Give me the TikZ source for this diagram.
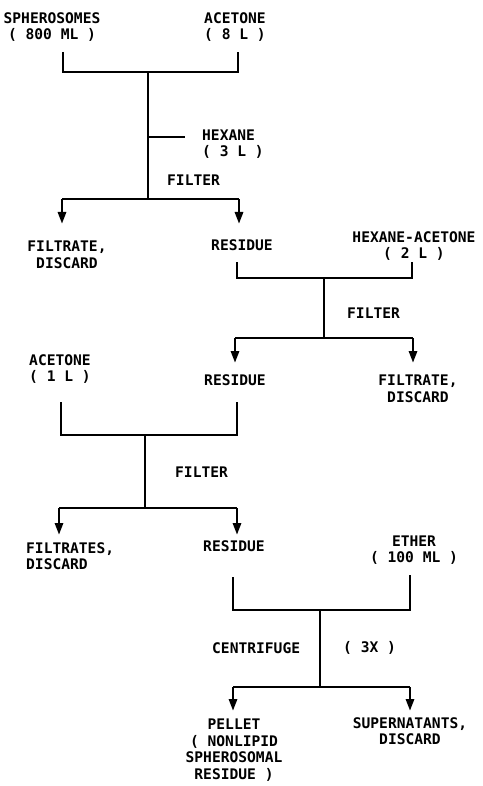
\documentclass[tikz,border=0pt]{standalone}
\usepackage{fontspec}
\setmainfont{DejaVu Sans Mono}
\usetikzlibrary{arrows.meta}
\begin{document}
\begin{tikzpicture}[x=1pt,y=-1pt,
  lbl/.style={font=\bfseries\fontsize{14.6}{16.5}\selectfont, inner sep=0pt, align=center},
  lbll/.style={lbl, align=left, anchor=west},
  ln/.style={line width=2.8pt, line cap=butt, line join=miter},
  arr/.style={ln, -{Triangle[width=8pt,length=12pt]}}]
\useasboundingbox (0,0) rectangle (482,786);

% ---------- block 1 ----------
\node[lbl] (sph) at (52,27) {SPHEROSOMES\\( 800 ML )};
\node[lbl] (ace1) at (235,27) {ACETONE\\( 8 L )};
\node[lbll] (hex) at (202,144) {HEXANE\\( 3 L )};
\node[lbll] (fil1) at (167,180) {FILTER};
\node[lbl] (ftr1) at (67,255) {FILTRATE,\\DISCARD};
\node[lbl] (res1) at (242,245) {RESIDUE};

\coordinate (a1) at (63,52);  \coordinate (a2) at (63,72);
\coordinate (a3) at (238,72); \coordinate (a4) at (238,52);
\coordinate (m1) at (148,72); \coordinate (m2) at (148,199);
\coordinate (h1) at (148,137); \coordinate (h2) at (185,137);
\coordinate (b1) at (62,199); \coordinate (b2) at (239,199);
\coordinate (t1) at (62,224); \coordinate (t2) at (239,224);
\draw[ln] (a1) -- (a2) -- (a3) -- (a4);
\draw[ln] (m1) -- (m2);
\draw[ln] (h1) -- (h2);
\draw[ln] (b1) -- (b2);
\draw[arr] (b1) -- (t1);
\draw[arr] (b2) -- (t2);

% ---------- block 2 ----------
\node[lbl] (hexace) at (414,246) {HEXANE-ACETONE\\( 2 L )};
\node[lbll] (fil2) at (347,313) {FILTER};
\node[lbl] (res2) at (235,380) {RESIDUE};
\node[lbl] (ftr2) at (418,389) {FILTRATE,\\DISCARD};

\coordinate (c1) at (237,262); \coordinate (c2) at (237,278);
\coordinate (c3) at (412,278); \coordinate (c4) at (412,262);
\coordinate (n1) at (324,278); \coordinate (n2) at (324,338);
\coordinate (d1) at (235,338); \coordinate (d2) at (413,338);
\coordinate (u1) at (235,363); \coordinate (u2) at (413,363);
\draw[ln] (c1) -- (c2) -- (c3) -- (c4);
\draw[ln] (n1) -- (n2);
\draw[ln] (d1) -- (d2);
\draw[arr] (d1) -- (u1);
\draw[arr] (d2) -- (u2);

% ---------- block 3 ----------
\node[lbl] (ace2) at (60,369) {ACETONE\\( 1 L )};
\node[lbll] (fil3) at (175,472) {FILTER};
\node[lbll] (ftr3) at (26,556) {FILTRATES,\\DISCARD};
\node[lbl] (res3) at (234,546) {RESIDUE};

\coordinate (e1) at (61,402); \coordinate (e2) at (61,435);
\coordinate (e3) at (237,435); \coordinate (e4) at (237,402);
\coordinate (p1) at (145,435); \coordinate (p2) at (145,508);
\coordinate (f1) at (59,508); \coordinate (f2) at (237,508);
\coordinate (v1) at (59,535); \coordinate (v2) at (237,535);
\draw[ln] (e1) -- (e2) -- (e3) -- (e4);
\draw[ln] (p1) -- (p2);
\draw[ln] (f1) -- (f2);
\draw[arr] (f1) -- (v1);
\draw[arr] (f2) -- (v2);

% ---------- block 4 ----------
\node[lbl] (eth) at (414,550) {ETHER\\( 100 ML )};
\node[lbll] (cen) at (212,648) {CENTRIFUGE};
\node[lbll] (x3) at (343,648) {( 3X )};
\node[lbl] (pel) at (234,750) {PELLET\\( NONLIPID\\SPHEROSOMAL\\RESIDUE )};
\node[lbl] (sup) at (410,731) {SUPERNATANTS,\\DISCARD};

\coordinate (g1) at (233,577); \coordinate (g2) at (233,610);
\coordinate (g3) at (410,610); \coordinate (g4) at (410,575);
\coordinate (q1) at (320,610); \coordinate (q2) at (320,687);
\coordinate (k1) at (233,687); \coordinate (k2) at (410,687);
\coordinate (w1) at (233,711); \coordinate (w2) at (410,711);
\draw[ln] (g1) -- (g2) -- (g3) -- (g4);
\draw[ln] (q1) -- (q2);
\draw[ln] (k1) -- (k2);
\draw[arr] (k1) -- (w1);
\draw[arr] (k2) -- (w2);
\end{tikzpicture}
\end{document}
